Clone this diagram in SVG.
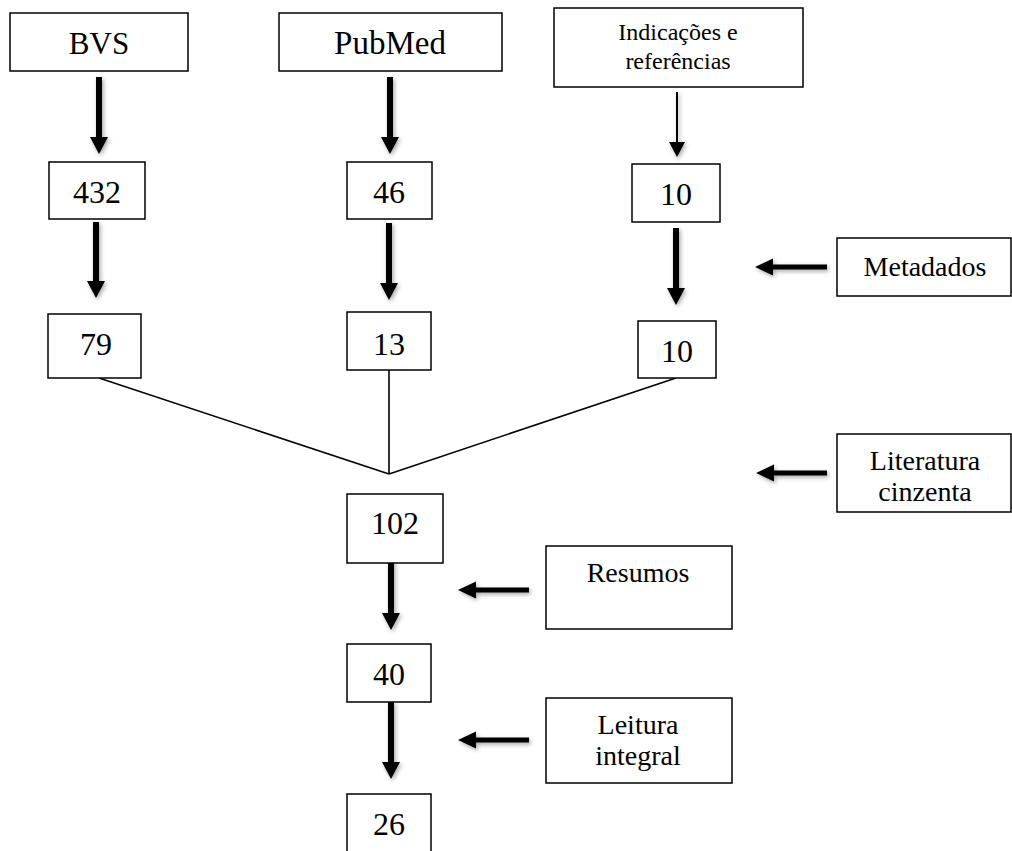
<svg xmlns="http://www.w3.org/2000/svg" width="1012" height="851" viewBox="0 0 1012 851">
<defs>
<style>
.box{fill:#fff;stroke:#000;stroke-width:1.5}
.t{font-family:"Liberation Serif","DejaVu Serif",serif;fill:#000;text-anchor:middle}
.num{font-size:32px}
.lab{font-size:28px}
.arr{fill:#000;filter:url(#sh)}
.ln{stroke:#000;stroke-width:1.6;fill:none}
</style>
<filter id="sh" x="-50%" y="-50%" width="200%" height="200%">
<feDropShadow dx="1.5" dy="2" stdDeviation="2" flood-color="#000" flood-opacity="0.35"/>
</filter>
</defs>
<rect width="1012" height="851" fill="#fff"/>
<g id="connectors">
<path class="arr" d="M96,77 h6 v60 h6 l-9,17 l-9,-17 h6 z"/>
<path class="arr" d="M387,77 h6 v60 h6 l-9,17 l-9,-17 h6 z"/>
<path class="arr" d="M93,222 h6 v59 h6 l-9,17 l-9,-17 h6 z"/>
<path class="arr" d="M386,223 h6 v60 h6 l-9,17 l-9,-17 h6 z"/>
<path class="arr" d="M673,228 h6 v60 h6 l-9,17 l-9,-17 h6 z"/>
<path class="arr" d="M388,553 h6 v60 h6 l-9,17 l-9,-17 h6 z"/>
<path class="arr" d="M388,702 h6 v60 h6 l-9,17 l-9,-17 h6 z"/>
<path class="arr" d="M676,92 h2 v50 h7 l-8,15 l-8,-15 h7 z"/>
<path class="arr" d="M827,264.5 v5 h-54 v6 l-18,-8.5 l18,-8.5 v6 z"/>
<path class="arr" d="M827,470.5 v5 h-53 v6 l-18,-8.5 l18,-8.5 v6 z"/>
<path class="arr" d="M529,587.5 v5 h-53 v6 l-18,-8.5 l18,-8.5 v6 z"/>
<path class="arr" d="M529,737.5 v5 h-53 v6 l-18,-8.5 l18,-8.5 v6 z"/>
<path class="ln" d="M99,378 L389,474 M389,370 L389,474 M676,378 L389,474"/>
</g>
<g id="n-bvs"><rect class="box" x="10" y="13" width="178" height="58"/><text class="t" x="99" y="54" font-size="31">BVS</text></g>
<g id="n-pubmed"><rect class="box" x="279" y="13" width="223" height="58"/><text class="t" x="390" y="54" font-size="33">PubMed</text></g>
<g id="n-indic"><rect class="box" x="554" y="8" width="249" height="79"/><text class="t" x="678" y="40" font-size="24">Indicações e</text><text class="t" x="678" y="69" font-size="24">referências</text></g>
<g id="n-432"><rect class="box" x="49" y="162" width="96" height="57"/><text class="t num" x="97" y="203">432</text></g>
<g id="n-46"><rect class="box" x="347" y="162" width="85" height="57"/><text class="t num" x="389" y="203">46</text></g>
<g id="n-10a"><rect class="box" x="632" y="164" width="88" height="58"/><text class="t num" x="676" y="205">10</text></g>
<g id="n-meta"><rect class="box" x="837" y="238" width="174" height="58"/><text class="t lab" x="925" y="276">Metadados</text></g>
<g id="n-79"><rect class="box" x="48" y="314" width="93" height="64"/><text class="t num" x="96" y="355">79</text></g>
<g id="n-13"><rect class="box" x="347" y="312" width="84" height="58"/><text class="t num" x="389" y="355">13</text></g>
<g id="n-10b"><rect class="box" x="638" y="321" width="78" height="57"/><text class="t num" x="677" y="362">10</text></g>
<g id="n-lit"><rect class="box" x="837" y="434" width="174" height="78"/><text class="t lab" x="925" y="470">Literatura</text><text class="t lab" x="925" y="501">cinzenta</text></g>
<g id="n-102"><rect class="box" x="347" y="494" width="96" height="69"/><text class="t num" x="395" y="534">102</text></g>
<g id="n-res"><rect class="box" x="546" y="546" width="186" height="83"/><text class="t lab" x="638" y="582">Resumos</text></g>
<g id="n-40"><rect class="box" x="347" y="644" width="84" height="58"/><text class="t num" x="389" y="685">40</text></g>
<g id="n-leit"><rect class="box" x="546" y="698" width="186" height="85"/><text class="t lab" x="638" y="734">Leitura</text><text class="t lab" x="638" y="765">integral</text></g>
<g id="n-26"><rect class="box" x="347" y="794" width="84" height="70"/><text class="t num" x="389" y="835">26</text></g>
</svg>
